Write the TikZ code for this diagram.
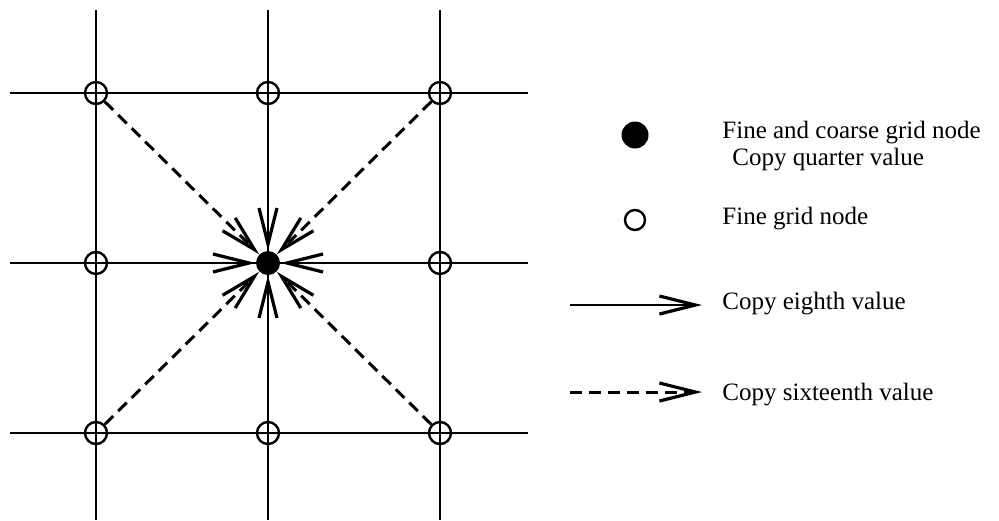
\documentclass[tikz,border=0pt]{standalone}
\usepackage{fontspec}
\setmainfont{Liberation Serif}
\usetikzlibrary{arrows.meta}

\begin{document}
\begin{tikzpicture}[x=0.5pt,y=-0.5pt,>={Straight Barb[length=18pt,width=9pt,line width=1.6pt]},
  fine/.style={circle,draw,line width=1.2pt,inner sep=0pt,minimum size=11pt},
  coarse/.style={circle,fill,inner sep=0pt,minimum size=12pt},
  eighth/.style={->,line width=1.4pt},
  sixteenth/.style={->,line width=1.5pt,dash pattern=on 6pt off 3.5pt},
  lbl/.style={anchor=west,inner sep=0pt,font=\fontsize{12.5}{15}\selectfont}]
  \useasboundingbox (0,0) rectangle (999,520);
  % grid lines
  \foreach \x in {96,268,440} \draw[line width=1.3pt] (\x,10)--(\x,520);
  \foreach \y in {93,263,433} \draw[line width=1.3pt] (10,\y)--(528,\y);
  % fine nodes and the coarse node in the middle
  \foreach \n/\x/\y in {g11/96/93,g21/268/93,g31/440/93,g12/96/263,g32/440/263,g13/96/433,g23/268/433,g33/440/433}
    \node[fine] (\n) at (\x,\y) {};
  \node[coarse] (c) at (268,263) {};
  \foreach \n in {g21,g12,g32,g23} \draw[eighth] (\n) -- (c);
  \foreach \n in {g11,g31,g13,g33} \draw[sixteenth] (\n) -- (c);
  % legend
  \node[coarse,minimum size=13.5pt] (kc) at (635,135) {};
  \node[fine,minimum size=10pt] (kf) at (635,220) {};
  \node[lbl] (tc) at (722,133) {Fine and coarse grid node};
  \node[lbl] (tq) at (732,160) {Copy quarter value};
  \node[lbl] (tf) at (722,219) {Fine grid node};
  \coordinate (e1) at (570,305); \coordinate (e2) at (702,305);
  \draw[eighth] (e1) -- (e2);
  \node[lbl] (te) at (722,304) {Copy eighth value};
  \coordinate (s1) at (570,392); \coordinate (s2) at (702,392);
  \draw[sixteenth] (s1) -- (s2);
  \node[lbl] (ts) at (722,395) {Copy sixteenth value};
\end{tikzpicture}
\end{document}
